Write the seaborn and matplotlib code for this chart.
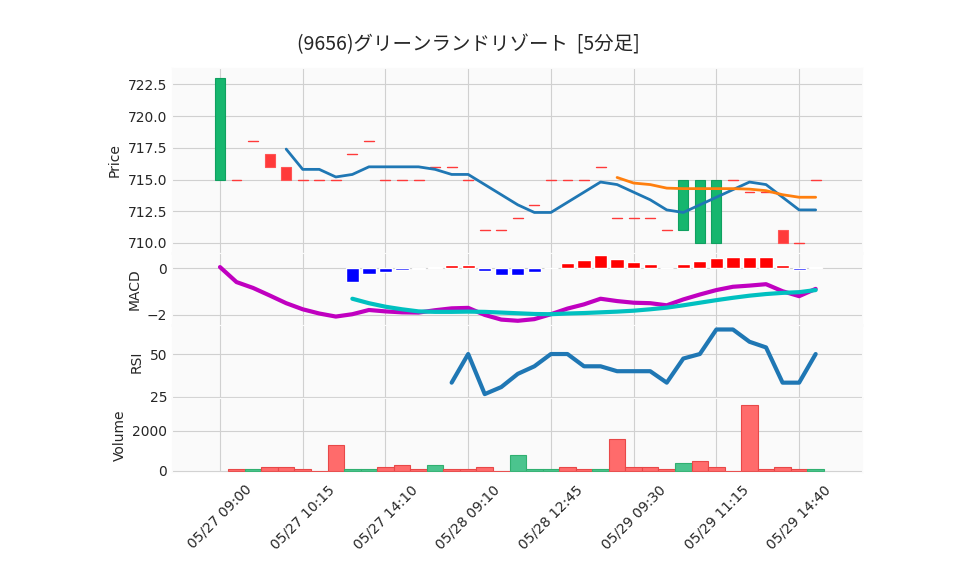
import seaborn as sns
import matplotlib.pyplot as plt
import numpy as np
import pandas as pd

# 5-minute bars
labels = ['05/27 09:00', '05/27 10:15', '05/27 14:10', '05/28 09:10',
          '05/28 12:45', '05/29 09:30', '05/29 11:15', '05/29 14:40']
opens = [715, 715, 718, 717, 716, 715, 715, 715, 717, 718, 715, 715, 715, 716, 716, 715, 711, 711, 712,
         713, 715, 715, 715, 716, 712, 712, 712, 711, 711, 710, 710, 715, 714, 714, 711, 710, 715]
closes = [723, 715, 718, 716, 715, 715, 715, 715, 717, 718, 715, 715, 715, 716, 716, 715, 711, 711, 712,
          713, 715, 715, 715, 716, 712, 712, 712, 711, 715, 715, 715, 715, 714, 714, 710, 710, 715]
volumes = [0, 100, 100, 200, 200, 100, 0, 1300, 100, 100, 200, 300, 100, 300, 100, 100, 200, 0, 800,
           100, 100, 200, 100, 100, 1600, 200, 200, 100, 400, 500, 200, 0, 3300, 100, 200, 100, 100]
macd = [0.04, -0.6, -0.85, -1.17, -1.5, -1.76, -1.94, -2.07, -1.97, -1.79, -1.85, -1.89, -1.9,
        -1.8, -1.72, -1.7, -2.0, -2.2, -2.25, -2.18, -1.97, -1.73, -1.55, -1.31, -1.41, -1.48,
        -1.5, -1.59, -1.34, -1.13, -0.94, -0.8, -0.75, -0.69, -0.99, -1.2, -0.89]
signal = [np.nan] * 8 + [-1.31, -1.5, -1.65, -1.76, -1.85, -1.87, -1.87, -1.86, -1.87, -1.9, -1.93,
                         -1.96, -1.97, -1.94, -1.92, -1.89, -1.86, -1.82, -1.76, -1.69, -1.59, -1.48,
                         -1.37, -1.27, -1.18, -1.11, -1.06, -1.03, -0.94]
hist = [np.nan] * 8 + [-0.6, -0.27, -0.18, -0.1, -0.06, 0.05, 0.14, 0.14, -0.14, -0.3, -0.3, -0.18,
                       0.0, 0.21, 0.34, 0.56, 0.39, 0.27, 0.18, 0.0, 0.18, 0.31, 0.44, 0.49, 0.49,
                       0.45, 0.14, -0.1, 0.03]

df = pd.DataFrame({'open': opens, 'close': closes, 'volume': volumes,
                   'macd': macd, 'signal': signal, 'hist': hist})
df['i'] = np.arange(len(df))
df['ma5'] = df['close'].rolling(5).mean()
df['ma25'] = df['close'].rolling(25).mean()
d = df['close'].diff()
up = d.clip(lower=0).rolling(14).mean()
dn = (-d.clip(upper=0)).rolling(14).mean()
df['rsi'] = 100 * up / (up + dn)

sns.set_style('whitegrid', {'axes.facecolor': '#fafafa', 'grid.color': '#d0d0d0', 'axes.edgecolor': '#fafafa'})
fig = plt.figure(figsize=(9.58, 5.75), dpi=100)
W, H = 958, 575
def box(top, bot):
    return [172 / W, 1 - bot / H, 690 / W, (bot - top) / H]
ax1 = fig.add_axes(box(68, 253))
ax2 = fig.add_axes(box(253, 325), sharex=ax1)
ax3 = fig.add_axes(box(325, 398), sharex=ax1)
ax4 = fig.add_axes(box(398, 472), sharex=ax1)

green, red = '#16b66e', '#ff3a3a'
for r in df.itertuples():
    if r.close > r.open:
        ax1.bar(r.i, r.close - r.open, bottom=r.open, width=0.6, color=green, edgecolor='#10a060', lw=0.8)
    elif r.close < r.open:
        ax1.bar(r.i, r.open - r.close, bottom=r.close, width=0.6, color=red, edgecolor='#ff5555', lw=0.8)
    else:
        ax1.plot([r.i - 0.3, r.i + 0.3], [r.close, r.close], color=red, lw=1)
sns.lineplot(data=df, x='i', y='ma5', ax=ax1, color='#1f77b4', lw=2)
sns.lineplot(data=df, x='i', y='ma25', ax=ax1, color='#ff7f0e', lw=2)
ax1.set_ylim(709.2, 723.8)
ax1.set_yticks([710, 712.5, 715, 717.5, 720, 722.5])
ax1.set_ylabel('Price')

hc = np.where(df['hist'] >= 0, 'red', 'blue')
ax2.bar(df['i'], df['hist'], width=0.8, color=hc)
sns.lineplot(data=df, x='i', y='macd', ax=ax2, color='#c000c0', lw=3)
sns.lineplot(data=df, x='i', y='signal', ax=ax2, color='#00c0c0', lw=3)
ax2.set_ylim(-2.43, 0.64)
ax2.set_yticks([-2, 0])
ax2.set_ylabel('MACD')

sns.lineplot(data=df, x='i', y='rsi', ax=ax3, color='#1f77b4', lw=3)
ax3.set_ylim(24.4, 66.9)
ax3.set_yticks([25, 50])
ax3.set_ylabel('RSI')

vc = np.where(d > 0, '#4bc48e', '#ff6b6b')
ec = np.where(d > 0, '#30b070', '#e84848')
ax4.bar(df['i'][1:], df['volume'][1:], width=1.0, color=vc[1:], edgecolor=ec[1:], lw=0.8)
ax4.set_ylim(-50, 3650)
ax4.set_yticks([0, 2000])
ax4.set_ylabel('Volume')

ax1.set_xlim(-2.9, 38.8)
for ax in (ax1, ax2, ax3):
    ax.tick_params(labelbottom=False, length=0)
    ax.set_xlabel('')
ax4.set_xlabel('')
ax4.set_xticks(range(0, 40, 5))
ax4.set_xticklabels(labels, rotation=45)
ax4.tick_params(axis='x', length=4, color='black')
for ax in (ax1, ax2, ax3, ax4):
    ax.tick_params(axis='y', labelsize=10, length=0)

fig.text(468 / W, 1 - 45 / H, '(9656)グリーンランドリゾート  [5分足]', ha='center', va='center',
         fontsize=14, family='Noto Sans CJK JP')
fig.savefig('out.png')
